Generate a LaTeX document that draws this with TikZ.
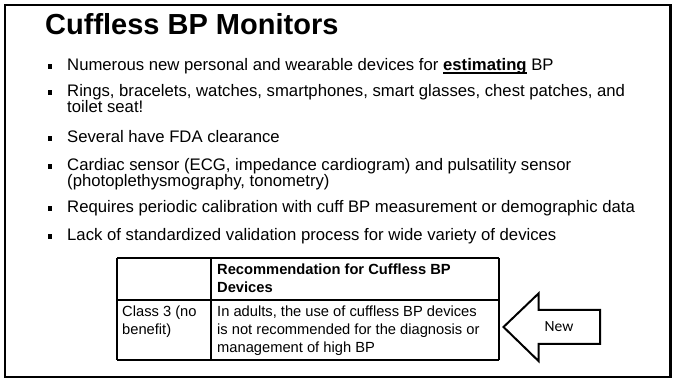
\documentclass[tikz,border=0pt]{standalone}
\usepackage{fontspec}
\setmainfont{Liberation Sans}
\newfontfamily\calloutfont{Carlito}
% bold word with a rule drawn just under the baseline
\newcommand\ulword[1]{\setbox0\hbox{#1}\rlap{\rule[-2.7pt]{\wd0}{1.2pt}}\box0\relax}
\begin{document}
\begin{tikzpicture}[x=1pt,y=-1pt,
  frame/.style={draw=black, line width=2.2pt},
  titletext/.style={anchor=base west, inner sep=0pt, font=\fontsize{29}{34}\selectfont\bfseries},
  bodyline/.style={anchor=base west, inner sep=0pt, font=\fontsize{16.7}{19}\selectfont},
  bulletsq/.style={fill=black, inner sep=0pt, minimum size=4.3pt, shape=rectangle},
  cell/.style={anchor=base west, inner sep=0pt, font=\fontsize{14.7}{18}\selectfont},
  tablerule/.style={draw=black, line width=1.3pt},
  headrule/.style={draw=black, line width=2.6pt},
  callout/.style={draw=black, line width=2pt, line join=miter, fill=white},
]
\useasboundingbox (0,0) rectangle (673,379);
\draw[frame] (5,5) rectangle (670.5,377);

% title
\node[titletext] (title) at (45,34.3) {Cuffless BP Monitors};

% bullet list
\node[bulletsq] (b1) at (50,66.5) {};
\node[bodyline] (l1) at (67,71) {Numerous new personal and wearable devices for \ulword{\textbf{estimating}} BP};
\node[bulletsq] (b2) at (50,92.5) {};
\node[bodyline] (l2) at (67,97) {Rings, bracelets, watches, smartphones, smart glasses, chest patches, and};
\node[bodyline] (l2b) at (67,112.5) {toilet seat!};
\node[bulletsq] (b3) at (50,138.5) {};
\node[bodyline] (l3) at (67,143) {Several have FDA clearance};
\node[bulletsq] (b4) at (50,166.5) {};
\node[bodyline] (l4) at (67,171) {Cardiac sensor (ECG, impedance cardiogram) and pulsatility sensor};
\node[bodyline] (l4b) at (67,186.5) {(photoplethysmography, tonometry)};
\node[bulletsq] (b5) at (50,208.5) {};
\node[bodyline] (l5) at (67,213) {Requires periodic calibration with cuff BP measurement or demographic data};
\node[bulletsq] (b6) at (50,236.5) {};
\node[bodyline] (l6) at (67,241) {Lack of standardized validation process for wide variety of devices};

% recommendation table
\draw[tablerule] (117,258) -- (499,258);
\draw[tablerule] (117,360) -- (499,360);
\draw[tablerule] (117,258) -- (117,360);
\draw[tablerule] (211,258) -- (211,360);
\draw[tablerule] (499,258) -- (499,360);
\draw[headrule] (117,300) -- (499,300);
\node[cell, font=\fontsize{14.7}{18}\selectfont\bfseries] (h1) at (217,275) {Recommendation for Cuffless BP};
\node[cell, font=\fontsize{14.7}{18}\selectfont\bfseries] (h2) at (217,293) {Devices};
\node[cell] (c1) at (122,317) {Class 3 (no};
\node[cell] (c2) at (122,335) {benefit)};
\node[cell] (r1) at (217,317) {In adults, the use of cuffless BP devices};
\node[cell] (r2) at (217,335) {is not recommended for the diagnosis or};
\node[cell] (r3) at (217,353) {management of high BP};

% "New" callout arrow pointing at the table
\draw[callout] (503.5,327) -- (538.5,293.5) -- (538.5,310) -- (600,310)
  -- (600,344) -- (538.5,344) -- (538.5,361) -- cycle;
\node[anchor=base, inner sep=0pt, font=\calloutfont\fontsize{15.5}{18}\selectfont] (new) at (559,332) {New};
\end{tikzpicture}
\end{document}
